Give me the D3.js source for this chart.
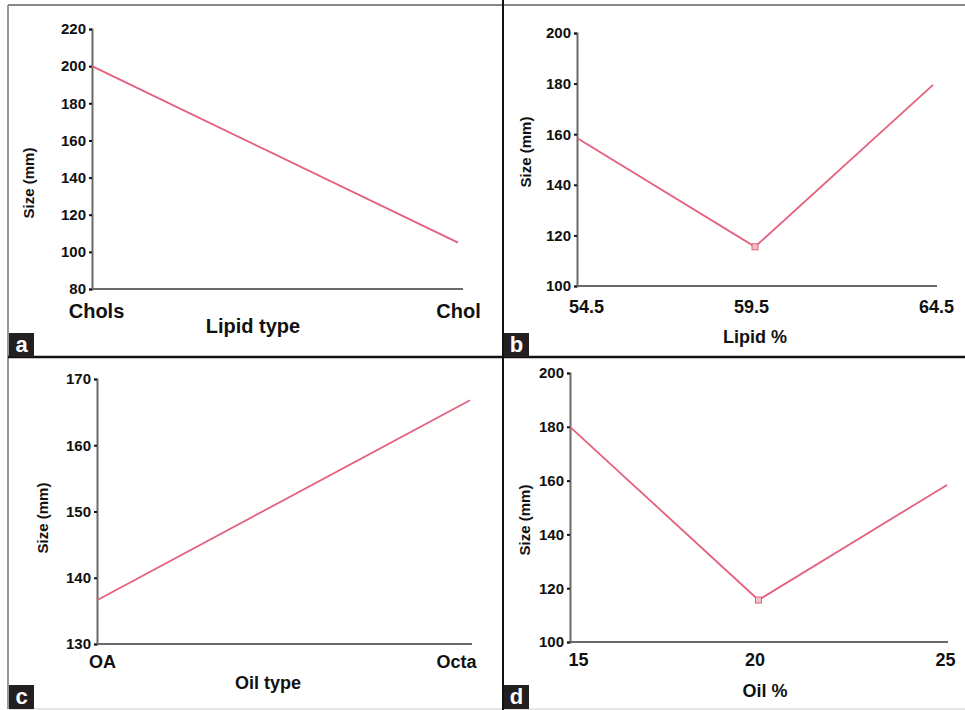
<!DOCTYPE html>
<html><head><meta charset="utf-8">
<script src="https://cdn.jsdelivr.net/npm/d3@7"></script>
<style>html,body{margin:0;padding:0;background:#fff;}svg{display:block;font-family:"Liberation Sans",Arial,Helvetica,sans-serif;font-weight:bold;}</style>
</head><body><svg id="c" width="965" height="710"></svg>
<script>
// Panel a: Lipid type
const aCategories = ["Chols", "Chol"];
const aValues = [200, 105];
const aTicks = [80, 100, 120, 140, 160, 180, 200, 220];
// Panel b: Lipid %
const bCategories = [54.5, 59.5, 64.5];
const bValues = [158.5, 115.5, 179.5];
const bTicks = [100, 120, 140, 160, 180, 200];
// Panel c: Oil type
const cCategories = ["OA", "Octa"];
const cValues = [136.6, 166.8];
const cTicks = [130, 140, 150, 160, 170];
// Panel d: Oil %
const dCategories = [15, 20, 25];
const dValues = [180, 115.6, 158.4];
const dTicks = [100, 120, 140, 160, 180, 200];

const svg = d3.select("#c");

// frame
svg.append("line").attr("x1",8).attr("x2",965).attr("y1",5).attr("y2",5).attr("stroke","#888").attr("stroke-width",2);
svg.append("line").attr("x1",8).attr("x2",8).attr("y1",5).attr("y2",709).attr("stroke","#777").attr("stroke-width",1.5);
svg.append("line").attr("x1",8).attr("x2",965).attr("y1",709).attr("y2",709).attr("stroke","#ccc").attr("stroke-width",1);
svg.append("line").attr("x1",503).attr("x2",503).attr("y1",0).attr("y2",710).attr("stroke","#111").attr("stroke-width",2);
svg.append("line").attr("x1",8).attr("x2",965).attr("y1",357).attr("y2",357).attr("stroke","#111").attr("stroke-width",2.5);

function panel(o){
  const g = svg.append("g");
  const x = o.ordinal
    ? d3.scalePoint().domain(o.cats).range([o.x0, o.x1])
    : d3.scaleLinear().domain([o.cats[0], o.cats[o.cats.length-1]]).range([o.x0, o.x1]);
  const y = d3.scaleLinear().domain([o.ticks[0], o.ticks[o.ticks.length-1]]).range([o.y0, o.y1]);
  // y axis
  const ya = g.append("g").attr("transform",`translate(${o.x0},0)`)
    .call(d3.axisLeft(y).tickValues(o.ticks).tickSize(3).tickPadding(3));
  ya.select(".domain").attr("stroke","#6a6a6a").attr("stroke-width",2);
  ya.selectAll(".tick line").attr("stroke","#111").attr("stroke-width",2);
  ya.selectAll(".tick text").attr("fill","#111").style("font-size",o.yfs+"px").style("font-weight","bold").style("font-family","Liberation Sans, Arial, sans-serif");
  // x axis
  const xa = g.append("g").attr("transform",`translate(0,${o.y0})`)
    .call(d3.axisBottom(x).tickValues(o.cats).tickSize(0).tickPadding(o.xpad).tickFormat(d=>String(d)));
  xa.select(".domain").attr("stroke","#6a6a6a").attr("stroke-width",2).attr("d",`M${o.x0},0H${o.xend}`);
  xa.selectAll(".tick text").attr("fill","#111").style("font-size",o.xfs+"px").style("font-weight","bold").style("font-family","Liberation Sans, Arial, sans-serif");
  xa.selectAll(".tick text").each(function(d,i){
    d3.select(this).attr("text-anchor","middle").attr("dx", o.xoff[i]);
  });
  // line
  const pts = o.cats.map((c,i)=>[x(c), y(o.vals[i])]);
  g.append("path").attr("d", d3.line()(pts)).attr("fill","none").attr("stroke","#e4607c").attr("stroke-width",1.8);
  if(o.markers){
    g.selectAll(".m").data(pts.slice(1,2)).enter().append("rect")
      .attr("x",d=>d[0]-3).attr("y",d=>d[1]-3).attr("width",6).attr("height",6)
      .attr("fill","#f3c0c8").attr("stroke","#e06078").attr("stroke-width",1);
  }
  // titles
  g.append("text").attr("x",o.xtx).attr("y",o.xty).attr("text-anchor","middle").style("font-size",o.xtfs+"px").attr("fill","#111").text(o.xtitle);
  g.append("text").attr("transform",`translate(${o.ytx},${o.yty}) rotate(-90)`).attr("text-anchor","middle").style("font-size",o.ytfs+"px").attr("fill","#111").text("Size (mm)");
  // letter box
  g.append("rect").attr("x",o.lx).attr("y",o.ly).attr("width",25).attr("height",24).attr("fill","#231f20");
  g.append("text").attr("x",o.lx+12.5).attr("y",o.ly+19).attr("text-anchor","middle").style("font-size","22px").attr("fill","#fff").text(o.letter);
}

panel({cats:aCategories, vals:aValues, ticks:aTicks, ordinal:true,
  x0:92, x1:458, xend:463, y0:289, y1:29, yfs:15, xfs:20, xpad:15, xoff:[4,0],
  xtitle:"Lipid type", xtx:253, xty:333, xtfs:20, ytx:34, yty:183, ytfs:15,
  letter:"a", lx:9, ly:333});
panel({cats:bCategories, vals:bValues, ticks:bTicks, ordinal:false, markers:true,
  x0:577, x1:933, xend:937, y0:286, y1:33, yfs:15, xfs:18, xpad:14, xoff:[9,-4,3],
  xtitle:"Lipid %", xtx:755, xty:343, xtfs:18, ytx:531, yty:152, ytfs:15,
  letter:"b", lx:504, ly:333});
panel({cats:cCategories, vals:cValues, ticks:cTicks, ordinal:true,
  x0:97, x1:470, xend:472, y0:644, y1:379, yfs:15, xfs:18, xpad:11, xoff:[5,-14],
  xtitle:"Oil type", xtx:268, xty:689, xtfs:18, ytx:48, yty:518, ytfs:15,
  letter:"c", lx:9, ly:685});
panel({cats:dCategories, vals:dValues, ticks:dTicks, ordinal:false, markers:true,
  x0:570, x1:947, xend:948, y0:642, y1:373, yfs:15, xfs:18, xpad:11, xoff:[8,-4,-2],
  xtitle:"Oil %", xtx:765, xty:697, xtfs:18, ytx:530, yty:520, ytfs:15,
  letter:"d", lx:504, ly:685});
</script></body></html>
